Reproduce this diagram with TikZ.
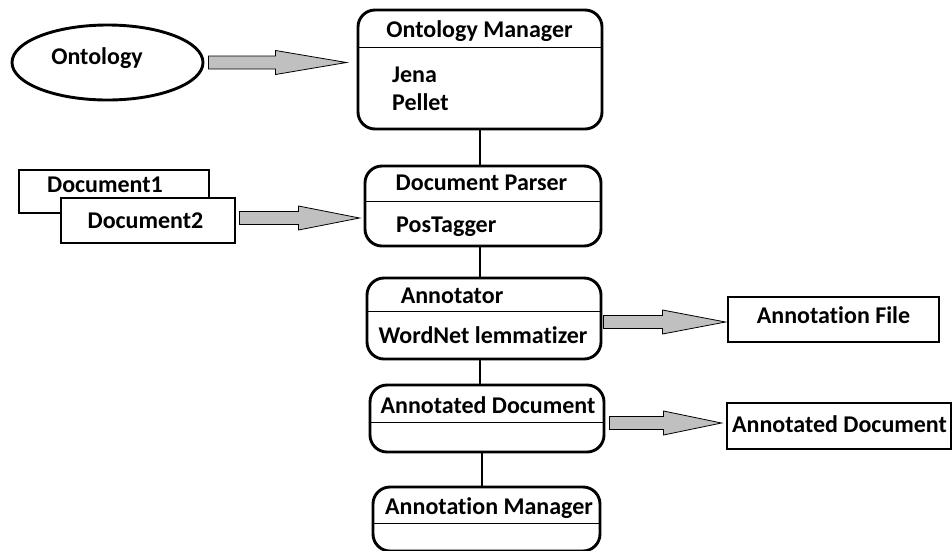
\documentclass[tikz,border=0pt]{standalone}
\usepackage{fontspec}
\setmainfont[Ligatures = NoCommon]{Carlito}
\usetikzlibrary{shapes.geometric,calc}
\definecolor{arrowgray}{RGB}{192,192,192}
\tikzstyle{procBox}=[draw, line width = 2.9pt, rounded corners = 17pt, inner sep = 0pt]
\tikzstyle{fileBox}=[draw, line width = 2.9pt, fill = white, inner sep = 0pt]
\tikzstyle{srcEllipse}=[draw, ellipse, line width = 2.9pt, inner sep = 0pt]
\tikzstyle{lbl}=[font = \bfseries\fontsize{24}{27}\selectfont, inner sep = 0pt, anchor = base]
\tikzstyle{lblLeft}=[lbl, anchor = base west]
\tikzstyle{partLine}=[line width = 0.8pt]
\tikzstyle{linkLine}=[line width = 2.9pt]
\newcommand{\fatarrow}[3]{%
  \draw[fill = arrowgray, line width = 0.8pt] ($(#1)+(0,-6.5)$) -- ($(#2)+(-#3,-6.5)$)
    -- ($(#2)+(-#3,-12)$) -- (#2) -- ($(#2)+(-#3,12)$) -- ($(#2)+(-#3,6.5)$)
    -- ($(#1)+(0,6.5)$) -- cycle;}

\begin{document}
\begin{tikzpicture}[x = 1pt, y = -1pt]
\useasboundingbox (0,0) rectangle (952,550);

\node[srcEllipse, minimum width = 191pt, minimum height = 75pt] (onto) at (107.5,62.5) {};
\node[lbl] (ontoTxt) at (97,64) {Ontology};

\node[procBox, minimum width = 244pt, minimum height = 119pt] (ontMgr) at (480,69.5) {};
\node[lbl] (ontMgrTxt) at (479.5,37) {Ontology Manager};
\node[lblLeft] (jena) at (392,82) {Jena};
\node[lblLeft] (pellet) at (392,110) {Pellet};
\draw[partLine] (ontMgr.west |- 0,47) -- (ontMgr.east |- 0,47);

\node[fileBox, minimum width = 190pt, minimum height = 43pt] (doc1) at (114,191.5) {};
\node[lbl] (doc1Txt) at (105,192) {Document1};
\node[fileBox, minimum width = 174pt, minimum height = 45pt] (doc2) at (148,220.5) {};
\node[lbl] (doc2Txt) at (145.5,228) {Document2};

\node[procBox, minimum width = 236pt, minimum height = 80pt] (parser) at (483,206) {};
\node[lbl] (parserTxt) at (481.5,190) {Document Parser};
\node[lblLeft] (posTagger) at (396,232) {PosTagger};
\draw[partLine] (parser.west |- 0,201) -- (parser.east |- 0,201);

\node[procBox, minimum width = 234pt, minimum height = 81pt] (annot) at (484,318.5) {};
\node[lbl] (annotTxt) at (452,303) {Annotator};
\node[lbl] (wordNet) at (483,343) {WordNet lemmatizer};
\draw[partLine] (annot.west |- 0,311) -- (annot.east |- 0,311);

\node[procBox, minimum width = 234pt, minimum height = 67pt] (annDoc) at (487,418.5) {};
\node[lbl] (annDocTxt) at (488,413) {Annotated Document};
\draw[partLine] (annDoc.west |- 0,422) -- (annDoc.east |- 0,422);

\node[procBox, minimum width = 227pt, minimum height = 64pt] (annMgr) at (486.5,519) {};
\node[lbl] (annMgrTxt) at (489,514) {Annotation Manager};
\draw[partLine] (annMgr.west |- 0,523) -- (annMgr.east |- 0,523);

\node[fileBox, minimum width = 211pt, minimum height = 45pt] (annFile) at (833.5,319.5) {};
\node[lbl] (annFileTxt) at (833.5,323) {Annotation File};
\node[fileBox, minimum width = 224pt, minimum height = 46pt] (outDoc) at (839,426) {};
\node[lbl] (outDocTxt) at (839.5,432) {Annotated Document};

\draw[linkLine] (ontMgr.south) -- (ontMgr.south |- parser.north);
\draw[linkLine] ([xshift = -3pt]parser.south) -- ([xshift = -3pt]parser.south |- annot.north);
\draw[linkLine] ([xshift = -4pt]annot.south) -- ([xshift = -4pt]annot.south |- annDoc.north);
\draw[linkLine] ([xshift = -5pt]annDoc.south) -- ([xshift = -5pt]annDoc.south |- annMgr.north);

\coordinate (a1s) at ([xshift = 4pt]onto.east);
\coordinate (a1t) at ($(a1s -| ontMgr.west)+(-10,0)$);
\fatarrow{a1s}{a1t}{71}
\coordinate (a2s) at ([shift = {(3pt,2.5pt)}]doc2.east);
\coordinate (a2t) at ($(a2s -| parser.west)+(-4,0)$);
\fatarrow{a2s}{a2t}{61}
\coordinate (a3s) at ([shift = {(1pt,-3.5pt)}]annot.east);
\coordinate (a3t) at ($(a3s -| annFile.west)+(-1,0)$);
\fatarrow{a3s}{a3t}{63}
\coordinate (a4s) at ([shift = {(4pt,-4.5pt)}]annDoc.east);
\coordinate (a4t) at ($(a4s -| outDoc.west)+(-4,0)$);
\fatarrow{a4s}{a4t}{58}
\end{tikzpicture}
\end{document}
